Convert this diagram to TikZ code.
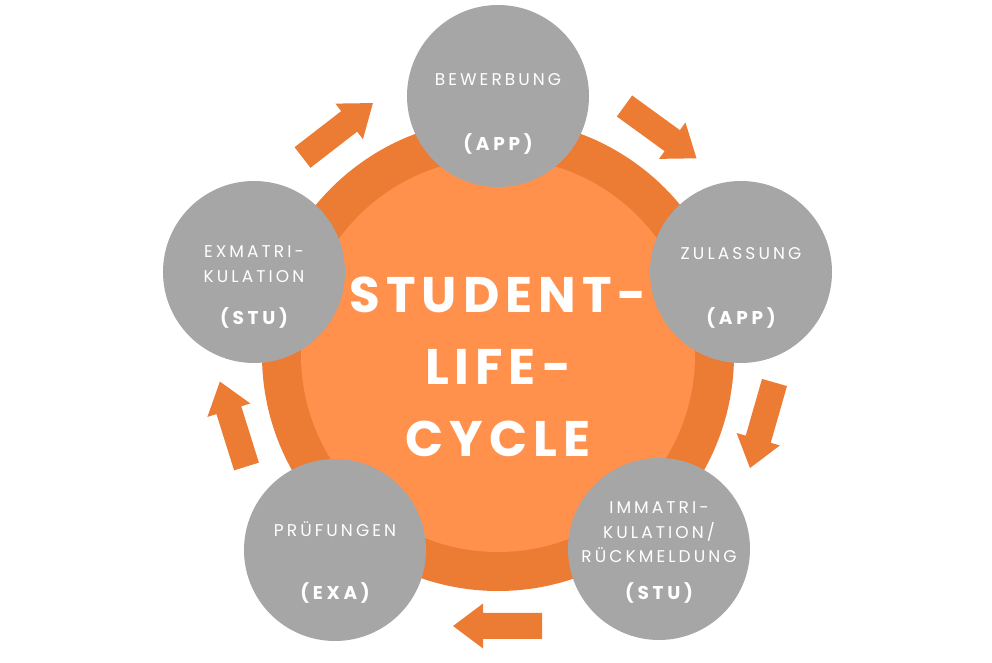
\documentclass[tikz,border=0pt]{standalone}
\usepackage{fontspec}
\setmainfont{Poppins}
\newfontfamily\lblfont[LetterSpace=18]{Poppins}
\newfontfamily\boldlblfont[LetterSpace=20]{Poppins}
\newfontfamily\titlefont[LetterSpace=12]{Poppins}
\definecolor{ringorange}{HTML}{EC7B34}
\definecolor{coreorange}{HTML}{FF914D}
\definecolor{graycirc}{HTML}{A6A6A6}
\definecolor{arroworange}{HTML}{EC7B34}
\tikzset{
  grayball/.style={circle, fill=graycirc, minimum size=182pt, inner sep=0pt},
  lbl/.style={text=white, anchor=base, inner sep=0pt, font=\lblfont\fontsize{17}{17}\selectfont},
  blbl/.style={text=white, anchor=base, inner sep=0pt, font=\boldlblfont\bfseries\fontsize{18.5}{18.5}\selectfont},
  ttl/.style={text=white, anchor=base, inner sep=0pt, font=\titlefont\bfseries\fontsize{50}{50}\selectfont},
  blockarrow/.style={fill=arroworange, draw=none},
}
\newcommand{\myblockarrow}[3]{%
  \path[blockarrow, shift={(#1,#2)}, rotate=#3]
    (0,-13) -- (59,-13) -- (59,-22.5) -- (89,0) -- (59,22.5) -- (59,13) -- (0,13) -- cycle;}
\begin{document}
\begin{tikzpicture}[x=1pt,y=1pt]
\useasboundingbox (0,0) rectangle (992,663);
% central discs
\node[circle, fill=ringorange, minimum size=472pt, inner sep=0pt] (ring) at (498,308) {};
\node[circle, fill=coreorange, minimum size=394pt, inner sep=0pt] (core) at (498,308) {};
% title
\node[ttl] (t1) at (498,350) {STUDENT-};
\node[ttl] (t2) at (498,278) {LIFE-};
\node[ttl] (t3) at (498,206) {CYCLE};
% gray circles
\node[grayball] (bew) at (498,567) {};
\node[grayball] (zul) at (741,391) {};
\node[grayball] (imm) at (659,114) {};
\node[grayball] (pru) at (335,113) {};
\node[grayball] (exm) at (254,391) {};
% labels
\node[lbl]  (bew1) at (498,577) {BEWERBUNG};
\node[blbl] (bew2) at (498,512) {(APP)};
\node[lbl]  (zul1) at (741,403) {ZULASSUNG};
\node[blbl] (zul2) at (741,338) {(APP)};
\node[lbl]  (exm1) at (254,405) {EXMATRI-};
\node[lbl]  (exm2) at (254,380) {KULATION};
\node[blbl] (exm3) at (254,338) {(STU)};
\node[lbl]  (pru1) at (335,126) {PRÜFUNGEN};
\node[blbl] (pru2) at (335,63) {(EXA)};
\node[lbl]  (imm1) at (659,149) {IMMATRI-};
\node[lbl]  (imm2) at (659,124) {KULATION/};
\node[lbl]  (imm3) at (659,100) {RÜCKMELDUNG};
\node[blbl] (imm4) at (659,63) {(STU)};
% block arrows
\myblockarrow{302.5}{505.5}{37.7}
\myblockarrow{624.5}{557}{-36}
\myblockarrow{774.5}{280.5}{-106}
\myblockarrow{542}{37}{180}
\myblockarrow{246.5}{196.5}{107.4}
\end{tikzpicture}
\end{document}
